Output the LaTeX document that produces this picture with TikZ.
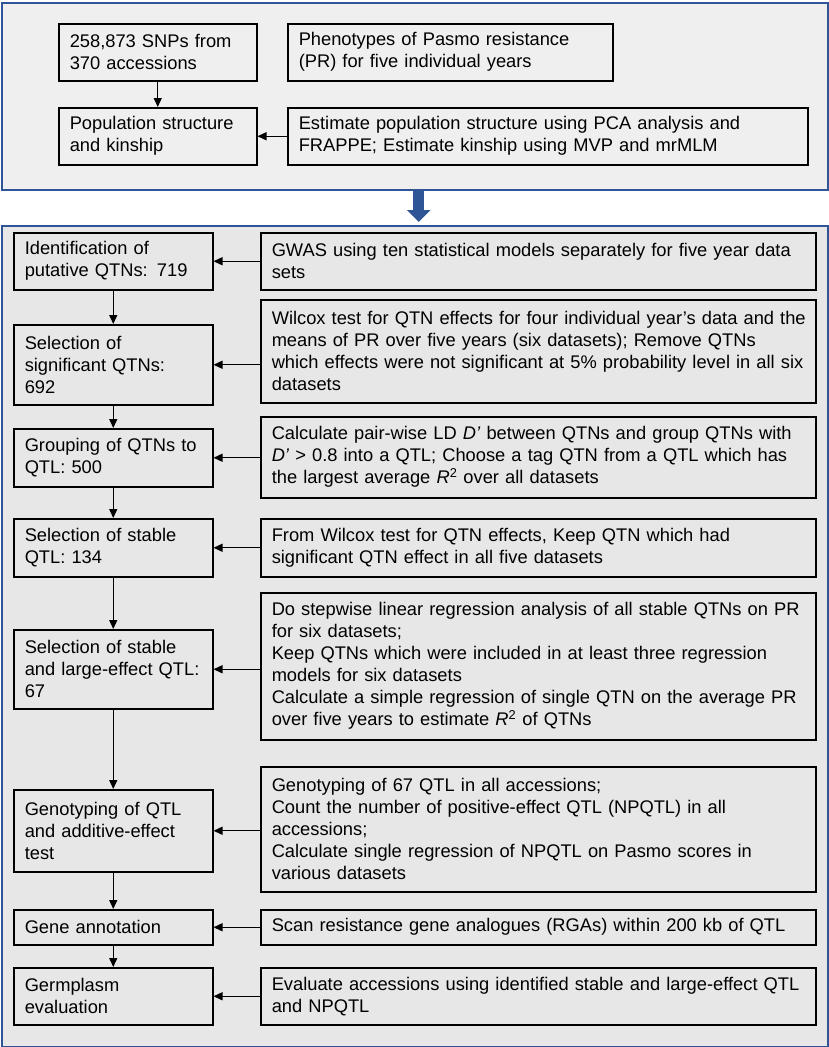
\documentclass[tikz,border=0pt]{standalone}
\usepackage{fontspec}
\setmainfont{Liberation Sans}[WordSpace={0.78,0.5,0.4}]
\usepackage{tikz}
\usetikzlibrary{arrows.meta}
\definecolor{frameblue}{HTML}{2F5597}
\definecolor{topgray}{HTML}{EFEFEF}
\definecolor{maingray}{HTML}{E7E7E7}
\tikzset{
  frame/.style={draw=frameblue, line width=1.5pt, anchor=north west, inner sep=0pt},
  stepbox/.style={draw, line width=1.5pt, anchor=north west, inner xsep=11pt, inner ysep=2pt,
    align=left, font=\fontsize{18.3}{22}\selectfont},
  flow/.style={-{Triangle[length=9pt,width=8pt]}, line width=1.4pt}
}
% box from its corners (x1,y1)-(x2,y2) in pixels
\newcommand{\flowbox}[6][]{%
  \pgfmathsetmacro{\boxw}{#4-#2}%
  \pgfmathsetmacro{\boxh}{#5-#3}%
  \pgfmathsetmacro{\textw}{#4-#2-22}%
  \node[stepbox, minimum width=\boxw pt, minimum height=\boxh pt, text width=\textw pt, #1]
    (#6) at (#2,#3)
}

\begin{document}
\begin{tikzpicture}[x=1pt, y=-1pt]
  \useasboundingbox (0,0) rectangle (829,1047);

  % the two panels
  \node[frame, fill=topgray, minimum width=826pt, minimum height=187pt] (topframe) at (1,2) {};
  \node[frame, fill=maingray, minimum width=826pt, minimum height=821pt] (mainframe) at (1,225) {};

  % data and structure
  \flowbox[fill=topgray]{58}{23}{256}{80}{snp} {258,873 SNPs from\\370 accessions};
  \flowbox[fill=topgray]{287}{23}{612}{80}{pheno} {Phenotypes of Pasmo resistance\\(PR) for five individual years};
  \flowbox[fill=topgray]{58}{107}{256}{164}{popstr} {Population structure\\and kinship};
  \flowbox[fill=topgray]{287}{107}{807}{164}{estim} {Estimate population structure using PCA analysis and\\FRAPPE; Estimate kinship using MVP and mrMLM};

  \draw[flow] (snp.south) -- (popstr.north);
  \draw[flow] (estim.west) -- (popstr.east);

  % big arrow between the panels
  \draw[frameblue, line width=11pt, -{Triangle[width=23pt,length=12pt]}, shorten >=3pt]
    ([xshift=4pt]topframe.south) -- ([xshift=4pt]mainframe.north);

  % steps (left column)
  \flowbox[fill=maingray]{13}{232}{212}{289}{ident} {Identification of\\putative QTNs: 719};
  \flowbox[fill=maingray]{13}{324}{212}{404}{sig} {Selection of\\significant QTNs:\\692};
  \flowbox[fill=maingray]{13}{428}{212}{486}{group} {Grouping of QTNs to\\QTL: 500};
  \flowbox[fill=maingray]{13}{518}{212}{576}{stable} {Selection of stable\\QTL: 134};
  \flowbox[fill=maingray]{13}{629}{212}{708}{large} {Selection of stable\\and large-effect QTL:\\67};
  \flowbox[fill=maingray]{13}{789}{212}{871}{geno} {Genotyping of QTL\\and additive-effect\\test};
  \flowbox[fill=maingray]{13}{909}{212}{944}{gene} {Gene annotation};
  \flowbox[fill=maingray]{13}{967}{212}{1024}{germ} {Germplasm\\evaluation};

  % methods (right column)
  \flowbox[fill=maingray]{260}{232}{815}{289}{gwas} {GWAS using ten statistical models separately for five year data\\sets};
  \flowbox[fill=maingray]{260}{299}{815}{402}{wilcox} {\mbox{Wilcox test for QTN effects for four individual year’s data and the}\\means of PR over five years (six datasets); Remove QTNs\\which effects were not significant at 5\% probability level in all six\\datasets};
  \flowbox[fill=maingray]{260}{416}{815}{497}{ld} {Calculate pair-wise LD \textit{D’} between QTNs and group QTNs with\\\textit{D’} > 0.8 into a QTL; Choose a tag QTN from a QTL which has\\the largest average \textit{R}\textsuperscript{2} over all datasets};
  \flowbox[fill=maingray]{260}{518}{815}{576}{fromw} {From Wilcox test for QTN effects, Keep QTN which had\\significant QTN effect in all five datasets};
  \flowbox[fill=maingray]{260}{592}{815}{739}{stepw} {Do stepwise linear regression analysis of all stable QTNs on PR\\for six datasets;\\Keep QTNs which were included in at least three regression\\models for six datasets\\Calculate a simple regression of single QTN on the average PR\\over five years to estimate \textit{R}\textsuperscript{2} of QTNs};
  \flowbox[fill=maingray]{260}{766}{815}{891}{genot} {Genotyping of 67 QTL in all accessions;\\Count the number of positive-effect QTL (NPQTL) in all\\accessions;\\Calculate single regression of NPQTL on Pasmo scores in\\various datasets};
  \flowbox[fill=maingray]{260}{909}{815}{944}{scan} {Scan resistance gene analogues (RGAs) within 200 kb of QTL};
  \flowbox[fill=maingray]{260}{967}{815}{1024}{eval} {Evaluate accessions using identified stable and large-effect QTL\\and NPQTL};

  % flow down the steps
  \foreach \a/\b in {ident/sig, sig/group, group/stable, stable/large, large/geno, geno/gene, gene/germ}
    \draw[flow] (\a.south) -- (\b.north);

  % each method feeds its step
  \foreach \m/\s in {gwas/ident, wilcox/sig, ld/group, fromw/stable, stepw/large, genot/geno, scan/gene, eval/germ}
    \draw[flow] (\m.west |- \s.east) -- (\s.east);

\end{tikzpicture}
\end{document}
